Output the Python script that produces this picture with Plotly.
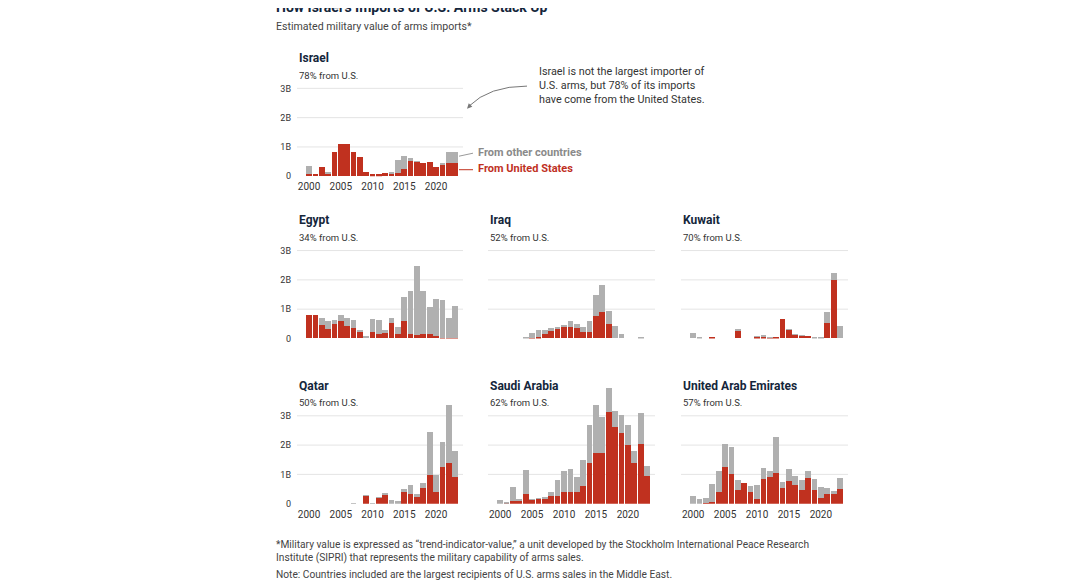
import plotly.graph_objects as go

W, H = 1091, 585
OFF = 8  # default page body margin
FW, FH = W - 2 * OFF, H - OFF
VS = 1 / 0.99  # empirical vertical correction

years = list(range(2000, 2024))

israel_total = [0.34, 0.09, 0.32, 0.16, 0.83, 1.09, 1.11, 0.83, 0.67, 0.13, 0.06, 0.06,
                0.12, 0.15, 0.54, 0.69, 0.62, 0.50, 0.44, 0.47, 0.32, 0.44, 0.84, 0.84]
israel_us = [0.08, 0.09, 0.32, 0.10, 0.83, 1.09, 1.11, 0.83, 0.67, 0.13, 0.06, 0.06,
             0.12, 0.09, 0.12, 0.23, 0.52, 0.49, 0.44, 0.47, 0.32, 0.41, 0.44, 0.44]

egypt_total = [0.80, 0.79, 0.70, 0.60, 0.63, 0.79, 0.69, 0.64, 0.30, 0.07, 0.67, 0.63,
               0.29, 0.70, 0.39, 1.43, 1.63, 2.46, 1.62, 1.08, 1.34, 1.31, 0.70, 1.11]
egypt_us = [0.80, 0.79, 0.46, 0.32, 0.48, 0.59, 0.43, 0.34, 0.24, 0.00, 0.23, 0.14,
            0.17, 0.52, 0.16, 0.59, 0.14, 0.11, 0.14, 0.14, 0.08, 0.02, 0.02, 0.03]

iraq_total = [0, 0, 0, 0, 0.05, 0.18, 0.29, 0.28, 0.37, 0.39, 0.45, 0.60,
              0.51, 0.38, 0.61, 1.48, 1.82, 0.92, 0.44, 0.14, 0, 0, 0.03, 0]
iraq_us = [0, 0, 0, 0, 0, 0.02, 0.06, 0.15, 0.26, 0.31, 0.38, 0.40,
           0.34, 0.23, 0.22, 0.78, 0.89, 0.48, 0, 0, 0, 0, 0, 0]

kuwait_total = [0.20, 0.04, 0, 0.02, 0, 0, 0, 0.28, 0, 0, 0.05, 0.09,
                0.02, 0.05, 0.67, 0.31, 0.14, 0.09, 0.08, 0.03, 0.03, 0.91, 2.24, 0.41]
kuwait_us = [0, 0, 0, 0.02, 0, 0, 0, 0.27, 0, 0, 0.04, 0.04,
             0.01, 0.05, 0.67, 0.29, 0.13, 0.08, 0.08, 0, 0, 0.54, 2.00, 0]

qatar_total = [0, 0, 0, 0, 0, 0, 0, 0.02, 0, 0.31, 0.02, 0.24,
               0.37, 0.12, 0.08, 0.51, 0.64, 0.34, 0.72, 2.46, 0.99, 2.09, 3.38, 1.81]
qatar_us = [0, 0, 0, 0, 0, 0, 0, 0, 0, 0.30, 0, 0.22,
            0.33, 0, 0, 0.39, 0.33, 0.22, 0.52, 0.97, 0.40, 1.25, 1.39, 0.91]

saudi_total = [0.11, 0.06, 0.56, 0.15, 1.15, 0.17, 0.20, 0.24, 0.39, 0.82, 1.10, 1.17,
               0.92, 1.50, 2.69, 3.36, 2.95, 3.95, 3.15, 3.04, 2.67, 1.79, 3.11, 1.30]
saudi_us = [0, 0.03, 0.10, 0.12, 0.33, 0.16, 0.19, 0.19, 0.26, 0.26, 0.39, 0.39,
            0.39, 0.60, 1.39, 1.74, 1.74, 3.12, 2.62, 2.41, 2.01, 1.38, 2.05, 0.95]

uae_total = [0.25, 0.17, 0.21, 0.67, 1.12, 2.05, 1.94, 0.81, 0.69, 0.59, 0.63, 1.23,
             1.12, 2.26, 0.73, 1.18, 0.94, 0.82, 1.12, 0.85, 0.56, 0.53, 0.44, 0.89]
uae_us = [0, 0, 0.03, 0.07, 0.39, 1.25, 1.00, 0.48, 0.69, 0.41, 0.15, 0.85,
          0.92, 1.05, 0.52, 0.78, 0.63, 0.46, 0.88, 0.48, 0.20, 0.32, 0.38, 0.50]

countries = ["Israel", "Egypt", "Iraq", "Kuwait", "Qatar", "Saudi Arabia", "United Arab Emirates"]
shares = ["78% from U.S.", "34% from U.S.", "52% from U.S.", "70% from U.S.",
          "50% from U.S.", "62% from U.S.", "57% from U.S."]
totals = [israel_total, egypt_total, iraq_total, kuwait_total, qatar_total, saudi_total, uae_total]
us_vals = [israel_us, egypt_us, iraq_us, kuwait_us, qatar_us, saudi_us, uae_us]

y_tickvals = [0, 1, 2, 3]
y_ticktext = ["0", "1B", "2B", "3B"]
x_tickvals = [2000, 2005, 2010, 2015, 2020]
x_ticktext = ["2000", "2005", "2010", "2015", "2020"]

RED = "#c0311f"
GREY = "#b0b0b0"
NAVY = "#14263b"
FONT = "Roboto, Arial, sans-serif"


def px(x):
    return (x - OFF) / FW


def py(y):
    return 1 - (y - OFF) * VS / FH


# panel pixel boxes (in screenshot pixels)
cols = [(297, 463), (488, 655), (681, 848)]
rows = {1: (176, 59), 2: (338, 221), 3: (503, 386)}
panels = [
    (cols[0], rows[1], True, True),
    (cols[0], rows[2], True, False),
    (cols[1], rows[2], False, False),
    (cols[2], rows[2], False, False),
    (cols[0], rows[3], True, True),
    (cols[1], rows[3], False, True),
    (cols[2], rows[3], False, True),
]

fig = go.Figure()
annotations = []
shapes = []

for i, (name, share, tot, us, panel) in enumerate(zip(countries, shares, totals, us_vals, panels)):
    k = i + 1
    xa = "x" if k == 1 else f"x{k}"
    ya = "y" if k == 1 else f"y{k}"
    (l, r), (base, top), show_y, show_x = panel
    other = [round(t - u, 3) for t, u in zip(tot, us)]
    fig.add_trace(go.Bar(x=years, y=us, marker=dict(color=RED, line=dict(width=0)),
                         xaxis=xa, yaxis=ya, showlegend=False, hoverinfo="skip"))
    fig.add_trace(go.Bar(x=years, y=other, marker=dict(color=GREY, line=dict(width=0)),
                         xaxis=xa, yaxis=ya, showlegend=False, hoverinfo="skip"))
    xkey = "xaxis" if k == 1 else f"xaxis{k}"
    ykey = "yaxis" if k == 1 else f"yaxis{k}"
    fig.layout[xkey] = dict(domain=[px(l), px(r)], anchor=ya, range=[1998.1, 2024.25],
                            showgrid=False, zeroline=False, showline=False, ticks="",
                            tickvals=x_tickvals, ticktext=x_ticktext, showticklabels=show_x,
                            ticklabelstandoff=3,
                            tickfont=dict(size=10, color="#333", family=FONT), fixedrange=True)
    fig.layout[ykey] = dict(domain=[py(base), py(top)], anchor=xa, range=[0, 4],
                            showgrid=False, zeroline=False, showline=False, ticks="",
                            tickvals=y_tickvals, ticktext=y_ticktext, showticklabels=show_y,
                            ticklabelstandoff=5,
                            tickfont=dict(size=9, color="#333", family=FONT), fixedrange=True)
    for v in [1, 2, 3]:
        shapes.append(dict(type="line", xref=f"{xa} domain", yref=ya, x0=0, x1=1, y0=v, y1=v,
                           line=dict(color="#e4e4e4", width=1), layer="below"))
    annotations.append(dict(text=f"<b>{name}</b>", x=px(l), y=py(top - 1), xref="paper",
                            yref="paper", xanchor="left", yanchor="middle", showarrow=False,
                            font=dict(size=12, color=NAVY, family=FONT)))
    annotations.append(dict(text=share, x=px(l), y=py(top + 16), xref="paper",
                            yref="paper", xanchor="left", yanchor="middle", showarrow=False,
                            font=dict(size=9.5, color="#333", family=FONT)))

# Title and subtitle
annotations.append(dict(text="<b>How Israel’s Imports of U.S. Arms Stack Up</b>", x=px(274), y=py(7.5),
                        xref="paper", yref="paper", xanchor="left", yanchor="middle",
                        showarrow=False, font=dict(size=14, color=NAVY, family=FONT)))
annotations.append(dict(text="Estimated military value of arms imports*", x=px(274), y=py(26),
                        xref="paper", yref="paper", xanchor="left", yanchor="middle",
                        showarrow=False, font=dict(size=10.6, color="#444", family=FONT)))

# Legend labels for Israel panel
annotations.append(dict(text="<b>From other countries</b>", x=px(476), y=py(152), xref="paper",
                        yref="paper", xanchor="left", yanchor="middle", showarrow=False,
                        font=dict(size=11, color="#8a8a8a", family=FONT)))
annotations.append(dict(text="<b>From United States</b>", x=px(476), y=py(168), xref="paper",
                        yref="paper", xanchor="left", yanchor="middle", showarrow=False,
                        font=dict(size=11, color=RED, family=FONT)))
shapes.append(dict(type="line", xref="paper", yref="paper", x0=px(459), x1=px(473),
                   y0=py(156), y1=py(153), line=dict(color="#9a9a9a", width=1)))
shapes.append(dict(type="line", xref="paper", yref="paper", x0=px(459), x1=px(473),
                   y0=py(169.5), y1=py(169.5), line=dict(color=RED, width=1)))

# Callout text and curved arrow
annotations.append(dict(text="Israel is not the largest importer of<br>U.S. arms, but 78% of its imports<br>"
                             "have come from the United States.",
                        x=px(537), y=py(63), xref="paper", yref="paper", xanchor="left",
                        yanchor="top", align="left", showarrow=False,
                        font=dict(size=10.8, color="#333", family=FONT)))
shapes.append(dict(type="path", xref="paper", yref="paper",
                   path=f"M {px(527)},{py(86)} Q {px(489)},{py(86)} {px(469)},{py(106)}",
                   line=dict(color="#777", width=1)))
annotations.append(dict(x=px(467), y=py(108.5), xref="paper", yref="paper", ax=5, ay=-5,
                        showarrow=True, arrowhead=2, arrowsize=1, arrowwidth=1,
                        arrowcolor="#777", text=""))

# Footnotes
annotations.append(dict(text="*Military value is expressed as “trend-indicator-value,” a unit developed by the "
                             "Stockholm International Peace Research<br>Institute (SIPRI) that represents the "
                             "military capability of arms sales.",
                        x=px(274), y=py(536), xref="paper", yref="paper", xanchor="left",
                        yanchor="top", align="left", showarrow=False,
                        font=dict(size=10.2, color="#444", family=FONT)))
annotations.append(dict(text="Note: Countries included are the largest recipients of U.S. arms sales in the Middle East.",
                        x=px(274), y=py(573.5), xref="paper", yref="paper", xanchor="left",
                        yanchor="middle", showarrow=False,
                        font=dict(size=10.2, color="#444", family=FONT)))

fig.update_layout(width=FW, height=FH, margin=dict(l=0, r=0, t=0, b=0),
                  paper_bgcolor="white", plot_bgcolor="rgba(0,0,0,0)",
                  barmode="stack", bargap=0.1, annotations=annotations, shapes=shapes,
                  font=dict(family=FONT))

fig.write_html("out.html", config={"displayModeBar": False})
